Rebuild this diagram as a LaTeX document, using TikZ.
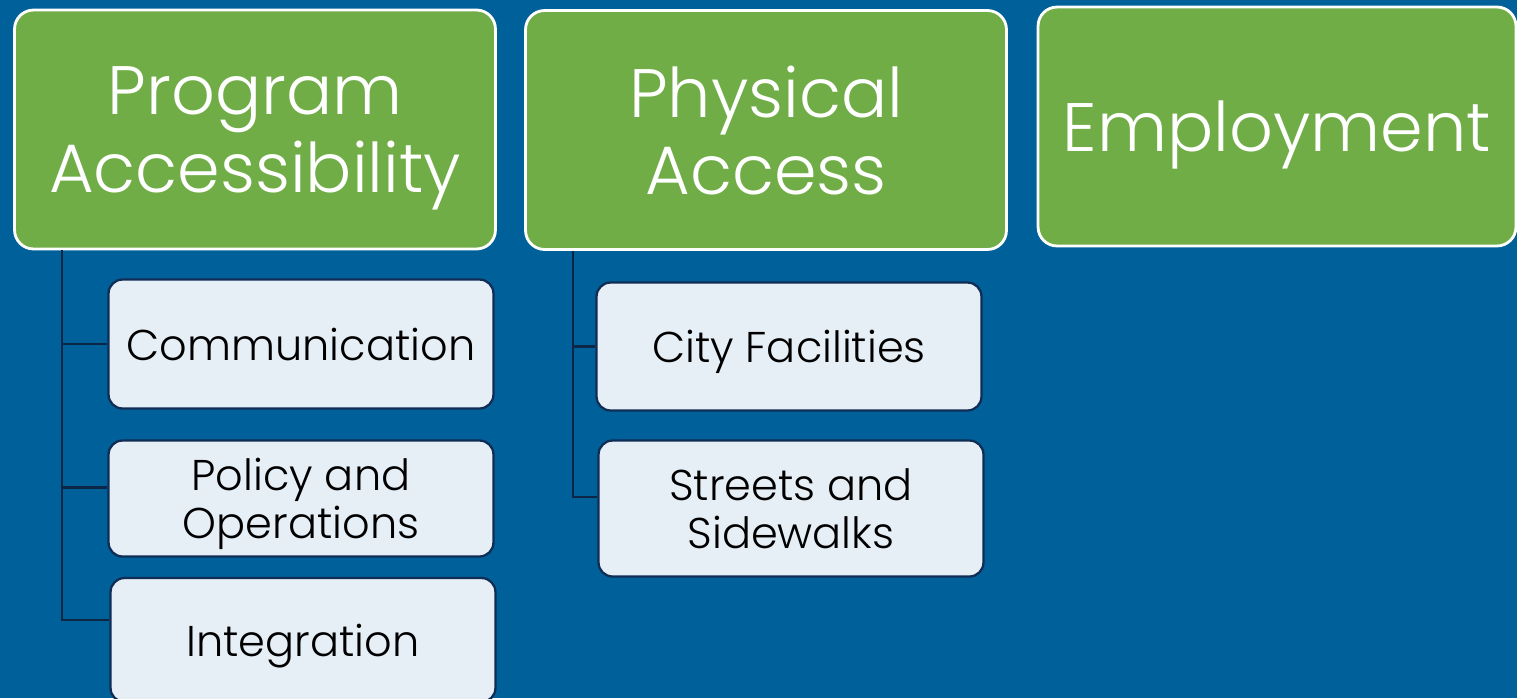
\documentclass[tikz,border=0pt]{standalone}
\usepackage{fontspec}
\setmainfont{Poppins}[UprightFont={* Light}]
\usetikzlibrary{positioning}
\definecolor{bgblue}{HTML}{00609A}
\definecolor{topgreen}{HTML}{70AD47}
\definecolor{subfill}{HTML}{E6EEF6}
\definecolor{subline}{HTML}{0F2D55}
\definecolor{treeline}{HTML}{0C2746}
\tikzset{
  topbox/.style={draw=white, line width=1.6pt, fill=topgreen, rounded corners=0.38cm,
    minimum width=9.62cm, minimum height=4.78cm, align=center, text=white,
    font=\fontsize{39}{44}\selectfont, inner sep=0pt, text depth=0pt},
  subbox/.style={draw=subline, line width=1.3pt, fill=subfill, rounded corners=0.28cm,
    minimum width=7.7cm, align=center, text=black,
    font=\fontsize{24.5}{27}\selectfont, inner sep=0pt, text depth=0pt},
  tree/.style={draw=treeline, line width=1.6pt}
}
\begin{document}
\begin{tikzpicture}[x=0.02cm,y=-0.02cm]
            \useasboundingbox[fill=bgblue] (0,0) rectangle (1517,698);
            \node[topbox]                          (prog) at (255,129.5) {Program\\Accessibility};
            \node[topbox]                          (phys) at (766,130)   {Physical\\Access};
            \node[topbox, minimum width=9.56cm]    (empl) at (1277,126.5) {Employment};
            \node[subbox, minimum height=2.58cm]   (comm) at (301,344)   {Communication};
            \node[subbox, minimum height=2.32cm]   (poli) at (301,498.5) {Policy and\\Operations};
            \node[subbox, minimum height=2.48cm]   (inte) at (303,640)   {Integration};
            \node[subbox, minimum height=2.56cm]   (city) at (789,346.5) {City Facilities};
            \node[subbox, minimum height=2.72cm]   (strt) at (791,508.5) {Streets and\\Sidewalks};
            \coordinate (prog_root) at (62,250);   % foot of the first tree
            \coordinate (phys_root) at (573,251);  % foot of the second tree
            \draw[tree] (prog_root) |- (comm.west);
            \draw[tree] (prog_root) |- ([yshift=0.22cm]poli.west);
            \draw[tree] (prog_root) |- ([yshift=0.4cm]inte.west);
            \draw[tree] (phys_root) |- (city.west);
            \draw[tree] (phys_root) |- ([yshift=0.23cm]strt.west);
        \end{tikzpicture}
\end{document}
